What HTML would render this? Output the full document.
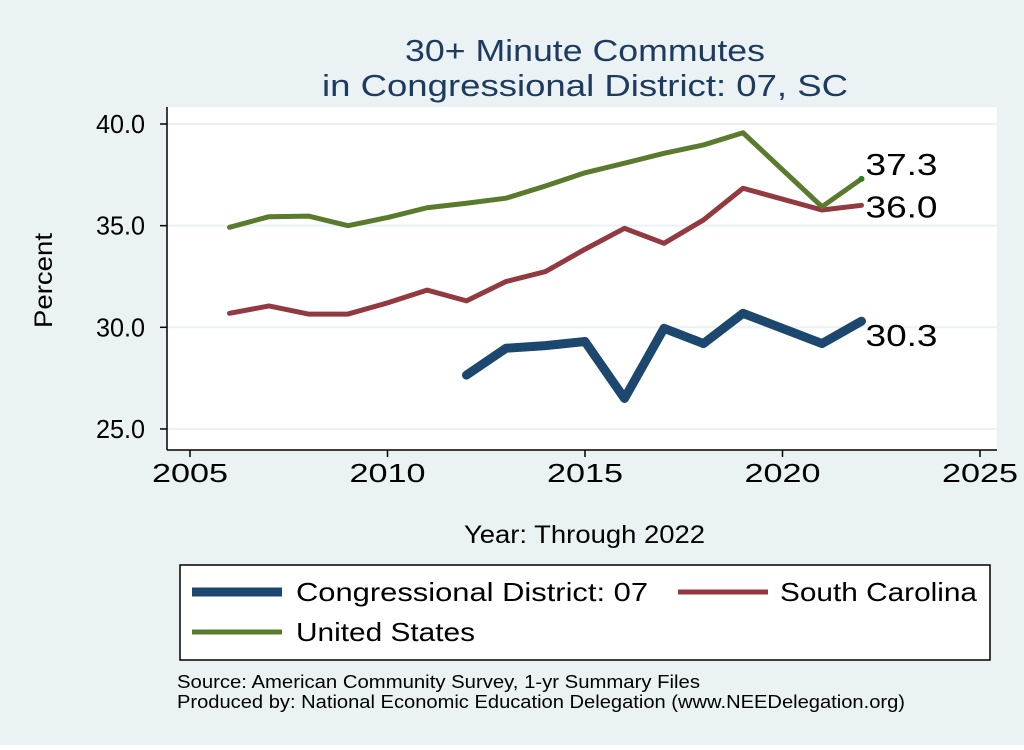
<!DOCTYPE html>
<html><head><meta charset="utf-8"><style>
body{margin:0;background:#fff;font-family:"Liberation Sans",Arial,sans-serif}
</style></head><body>
<svg id="chart" width="1024" height="745" xmlns="http://www.w3.org/2000/svg" xml:space="preserve">
<rect x="0" y="0" width="1024" height="745" fill="#eaf2f3"/>
<rect x="167" y="107" width="830" height="343" fill="#fff"/>
<text x="405" y="61" font-size="31" textLength="360" lengthAdjust="spacingAndGlyphs" fill="#1e3a5f">30+ Minute Commutes</text>
<text x="322" y="96" font-size="31" textLength="526" lengthAdjust="spacingAndGlyphs" fill="#1e3a5f">in Congressional District:  07, SC</text>
<g id="grid"></g><g id="axes"></g><g id="series"></g>
<text x="52" y="328" font-size="25" textLength="95" lengthAdjust="spacingAndGlyphs" transform="rotate(-90 52 328)">Percent</text>
<text x="464" y="543" font-size="25" textLength="241" lengthAdjust="spacingAndGlyphs">Year: Through 2022</text>
<g>
<rect x="180" y="565" width="810" height="95" fill="#fff" stroke="#000" stroke-width="1.5"/>
<line x1="192" y1="592" x2="282" y2="592" stroke="#1c476e" stroke-width="9"/>
<text x="296" y="601" font-size="26" textLength="352" lengthAdjust="spacingAndGlyphs">Congressional District:  07</text>
<line x1="678" y1="592" x2="768" y2="592" stroke="#923a3f" stroke-width="5"/>
<text x="780" y="601" font-size="26" textLength="197" lengthAdjust="spacingAndGlyphs">South Carolina</text>
<line x1="192" y1="632" x2="282" y2="632" stroke="#5a7a2e" stroke-width="5"/>
<text x="296" y="641" font-size="26" textLength="179" lengthAdjust="spacingAndGlyphs">United States</text>
</g>
<text x="177" y="688" font-size="18" textLength="523" lengthAdjust="spacingAndGlyphs">Source: American Community Survey, 1-yr Summary Files</text>
<text x="177" y="708" font-size="18" textLength="728" lengthAdjust="spacingAndGlyphs">Produced by: National Economic Education Delegation (www.NEEDelegation.org)</text>
</svg>
<script>
const years=[2006,2007,2008,2009,2010,2011,2012,2013,2014,2015,2016,2017,2018,2019,2021,2022];
const usVals=[34.92,35.44,35.47,35.0,35.4,35.88,36.1,36.35,36.95,37.6,38.07,38.56,38.97,39.57,35.93,37.3];
const scVals=[30.69,31.05,30.65,30.65,31.2,31.83,31.3,32.25,32.74,33.84,34.87,34.13,35.28,36.84,35.77,36.0];
const cdYears=[2012,2013,2014,2015,2016,2017,2018,2019,2021,2022];
const cdVals=[27.65,28.97,29.1,29.3,26.5,29.95,29.2,30.69,29.2,30.3];
const xTicks=[2005,2010,2015,2020,2025];
const yTicks=[25,30,35,40];
const yTickLabels=["25.0","30.0","35.0","40.0"];
const NS="http://www.w3.org/2000/svg";
const X=v=>190+(v-2005)*39.5;
const Y=v=>124+(40-v)*20.33;
function mk(p,tag,at){const e=document.createElementNS(NS,tag);for(const k in at)e.setAttribute(k,at[k]);document.getElementById(p).appendChild(e);return e;}
yTicks.forEach((t,i)=>{
 const g=mk('grid','line',{x1:167,x2:997,y1:Y(t),y2:Y(t),stroke:'#eaf2f3','stroke-width':2});
 
 
 const tk=mk('axes','line',{x1:160,x2:167,y1:Y(t),y2:Y(t),stroke:'#000','stroke-width':1.5});
 
 
 const tx=mk('axes','text',{x:145,y:Y(t)+9,'font-size':26,'text-anchor':'end',textLength:49,lengthAdjust:'spacingAndGlyphs'});tx.textContent=yTickLabels[i];
 
 
});
xTicks.forEach(t=>{
 const tk=mk('axes','line',{x1:X(t),x2:X(t),y1:450,y2:457,stroke:'#000','stroke-width':1.5});
 
 
 const tx=mk('axes','text',{x:X(t)-38,y:482,'font-size':26,textLength:76,lengthAdjust:'spacingAndGlyphs'});tx.textContent=t;
 
 
});
const ya=mk('axes','line',{x1:167,x2:167,y1:107,y2:450,stroke:'#000','stroke-width':1.5});


const xa=mk('axes','line',{x1:167,x2:997,y1:450,y2:450,stroke:'#000','stroke-width':1.5});


function line(xs,vs,color,w,name){
 const p=mk('series','polyline',{points:xs.map((x,i)=>X(x)+','+Y(vs[i])).join(' '),fill:'none',stroke:color,'stroke-width':w,'stroke-linejoin':'round','stroke-linecap':'round'});
 
 
 const v=vs[vs.length-1];
 const t=mk('series','text',{x:X(xs[xs.length-1])+4,y:Y(v)+(name==='us-line'?-4:name==='sc-line'?12:25),'font-size':31,textLength:72,lengthAdjust:'spacingAndGlyphs'});t.textContent=v.toFixed(1);
 
 
}
line(years,scVals,'#923a3f',5,'sc-line');
line(years,usVals,'#5a7a2e',5,'us-line');
line(cdYears,cdVals,'#1c476e',9,'district-line');
const dot=mk('series','circle',{cx:X(years[years.length-1]),cy:Y(usVals[usVals.length-1]),r:3,fill:'#2e7d1e'});


</script>
</body></html>
